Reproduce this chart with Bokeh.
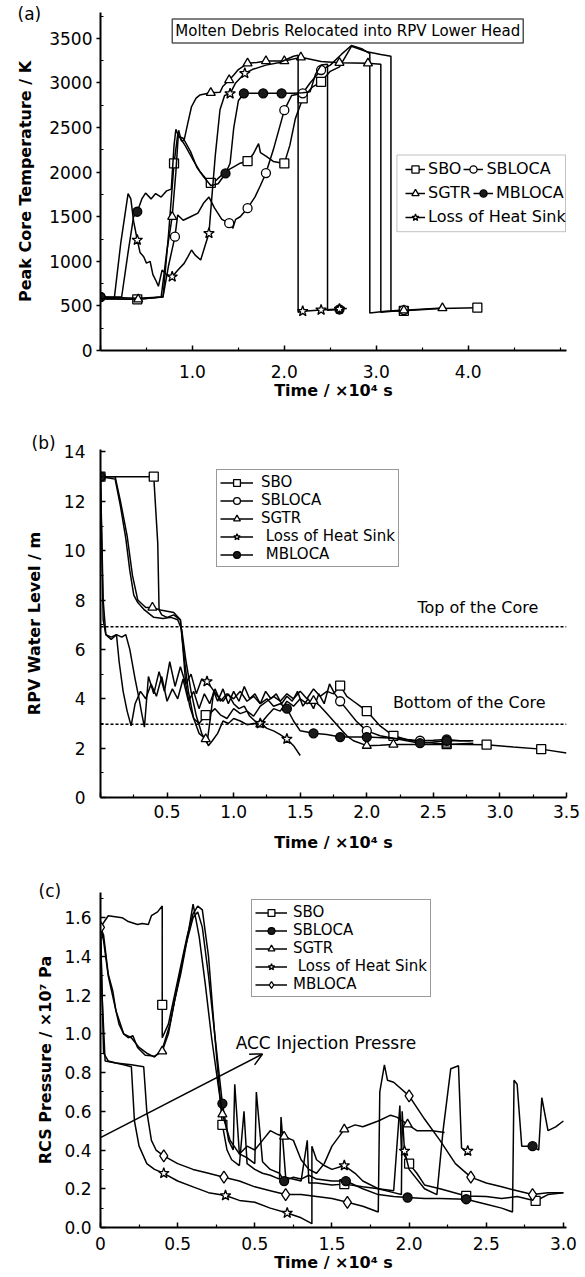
from bokeh.plotting import figure
from bokeh.models import (Range1d, FixedTicker, CustomJSTickFormatter, Legend, LegendItem,
                          Label, Span, Arrow, OpenHead, BoxAnnotation, Title)
from bokeh.layouts import column
from bokeh.embed import file_html
from bokeh.resources import INLINE

FONT = "DejaVu Sans"
INK = "black"

# ---------------- (a) Peak core temperature ----------------
A_SBO_X = [0, 0.4, 0.68, 0.74, 0.8, 0.84, 0.87, 0.92, 1.0, 1.08, 1.16, 1.2, 1.25, 1.3, 1.38, 1.45, 1.52, 1.6, 1.66, 1.72,
           1.74, 1.8, 1.88, 2.0, 2.06, 2.12, 2.2, 2.3, 2.4, 2.5, 2.6, 2.73, 2.9, 3.05, 3.16, 3.16, 3.3, 3.7, 4.1]
A_SBO_Y = [580, 574, 600, 1300, 2098, 2420, 2380, 2300, 2150, 2010, 1910, 1880, 1900, 1950, 2020, 2060, 2100, 2124, 2200, 2320,
           2220, 2180, 2120, 2098, 2300, 2600, 2827, 2950, 3013, 3130, 3180, 3410, 3350, 3320, 3300, 440, 445, 470, 480]
A_SBO_MX = [0.4, 0.8, 1.2, 1.6, 2.0, 2.2, 2.4, 3.3, 4.1]
A_SBO_MY = [574, 2098, 1880, 2124, 2098, 2827, 3013, 445, 480]

A_SBLOCA_X = [0, 0.4, 0.68, 0.74, 0.81, 0.84, 0.9, 0.98, 1.06, 1.12, 1.18, 1.24, 1.32, 1.4, 1.44, 1.47, 1.52, 1.6, 1.68, 1.74,
              1.8, 1.88, 2.0, 2.08, 2.2, 2.28, 2.4, 2.5, 2.62, 2.73, 2.85, 2.93, 2.93, 3.1, 3.3]
A_SBLOCA_Y = [600, 585, 600, 950, 1276, 1520, 1460, 1500, 1540, 1650, 1720, 1600, 1470, 1428, 1370, 1470, 1500, 1596, 1720, 1850,
              1990, 2250, 2695, 2860, 2884, 3000, 3145, 3200, 3320, 3420, 3380, 3330, 420, 440, 453]
A_SBLOCA_MX = [0, 0.81, 1.4, 1.6, 1.8, 2.0, 2.2, 2.4, 3.3]
A_SBLOCA_MY = [600, 1276, 1428, 1596, 1990, 2695, 2884, 3145, 453]

A_SGTR_X = [0, 0.41, 0.66, 0.72, 0.78, 0.82, 0.85, 0.88, 0.91, 0.95, 0.99, 1.04, 1.08, 1.2, 1.3, 1.33, 1.4, 1.45, 1.5, 1.6,
            1.7, 1.8, 2.0, 2.18, 2.4, 2.6, 2.91, 3.05, 3.05, 3.3, 3.72]
A_SGTR_Y = [580, 574, 600, 1100, 1500, 2000, 2470, 2350, 2359, 2550, 2733, 2830, 2864, 2890, 2895, 2960, 3033, 3090, 3150, 3220,
            3230, 3245, 3245, 3287, 3240, 3226, 3220, 3210, 430, 450, 476]
A_SGTR_MX = [0.41, 0.78, 1.2, 1.4, 1.6, 1.8, 2.0, 2.18, 2.6, 2.91, 3.3, 3.72]
A_SGTR_MY = [574, 1500, 2890, 3033, 3220, 3245, 3245, 3287, 3226, 3220, 450, 476]

A_MB_X = [0, 0.23, 0.3, 0.36, 0.4, 0.45, 0.49, 0.55, 0.6, 0.66, 0.72, 0.77, 0.8, 0.82, 0.85, 0.9, 0.98, 1.05, 1.12, 1.2,
          1.28, 1.36, 1.41, 1.45, 1.5, 1.56, 1.77, 1.97, 2.1, 2.2, 2.28, 2.34, 2.4, 2.47, 2.47, 2.6, 2.63]
A_MB_Y = [600, 600, 1100, 1500, 1556, 1700, 1765, 1700, 1760, 1720, 1790, 1810, 2300, 2480, 2400, 2380, 2230, 2050, 1950, 1850,
          1870, 1985, 2100, 2500, 2800, 2884, 2884, 2884, 2884, 2890, 2900, 3100, 3200, 3210, 450, 460, 465]
A_MB_MX = [0, 0.4, 1.36, 1.56, 1.77, 1.97, 2.6]
A_MB_MY = [600, 1556, 1985, 2884, 2884, 2884, 460]

A_LHS_X = [0, 0.15, 0.22, 0.3, 0.33, 0.36, 0.4, 0.43, 0.47, 0.5, 0.54, 0.57, 0.6, 0.63, 0.67, 0.72, 0.78, 0.84, 0.91, 0.95,
           0.99, 1.03, 1.09, 1.13, 1.18, 1.21, 1.25, 1.3, 1.35, 1.41, 1.47, 1.57, 1.65, 1.8, 1.95, 2.1, 2.15, 2.15, 2.2, 2.4,
           2.6, 2.68]
A_LHS_Y = [580, 585, 1200, 1760, 1700, 1450, 1239, 1100, 1051, 980, 1000, 850, 790, 720, 902, 850, 827, 900, 977, 1050,
           1127, 1070, 1015, 1150, 1314, 1700, 2200, 2700, 2860, 2880, 3000, 3108, 3150, 3200, 3230, 3300, 3310, 430, 440, 455,
           465, 470]
A_LHS_MX = [0.4, 0.78, 1.18, 1.41, 1.57, 2.2, 2.4, 2.6]
A_LHS_MY = [1239, 827, 1314, 2880, 3108, 440, 455, 465]

# ---------------- (b) RPV water level ----------------
B_SBO_X = [0, 0.4, 0.43, 0.44, 0.46, 0.5, 0.55, 0.6, 0.62, 0.64, 0.67, 0.7, 0.74, 0.77, 0.79, 0.82, 0.86, 0.9, 0.95, 1.0,
           1.05, 1.1, 1.15, 1.2, 1.25, 1.3, 1.35, 1.4, 1.45, 1.5, 1.55, 1.6, 1.65, 1.7, 1.75, 1.8, 1.85, 1.9, 1.95, 2.0,
           2.05, 2.1, 2.2, 2.3, 2.4, 2.6, 2.9, 3.1, 3.31, 3.5]
B_SBO_Y = [13, 13, 10.3, 7.6, 7.4, 7.3, 7.4, 7.2, 6.0, 4.6, 3.7, 3.2, 3.0, 3.2, 3.34, 3.4, 3.6, 3.35, 3.2, 3.6,
           3.4, 3.5, 3.3, 3.7, 3.9, 4.1, 3.9, 4.2, 4.0, 4.3, 4.0, 4.4, 4.1, 4.3, 4.2, 4.53, 4.1, 3.9, 3.7, 3.5,
           3.2, 2.9, 2.5, 2.35, 2.25, 2.16, 2.14, 2.05, 1.96, 1.8]
B_SBO_MX = [0, 0.4, 0.79, 1.8, 2.0, 2.2, 2.6, 2.9, 3.31]
B_SBO_MY = [13, 13, 3.34, 4.53, 3.5, 2.5, 2.16, 2.14, 1.96]

B_SBLOCA_X = [0, 0.11, 0.15, 0.19, 0.22, 0.25, 0.28, 0.33, 0.4, 0.47, 0.53, 0.58, 0.61, 0.64, 0.68, 0.72, 0.76, 0.8, 0.82, 0.85,
              0.88, 0.92, 0.96, 1.0, 1.04, 1.08, 1.12, 1.16, 1.2, 1.24, 1.28, 1.32, 1.36, 1.4, 1.44, 1.48, 1.52, 1.56, 1.6, 1.64,
              1.68, 1.72, 1.76, 1.8, 1.86, 1.92, 2.0, 2.1, 2.2, 2.3, 2.4, 2.5, 2.6, 2.7, 2.8]
B_SBLOCA_Y = [13, 12.9, 11.8, 10.5, 9.2, 8.2, 7.9, 7.6, 7.3, 7.25, 7.3, 7.2, 6.8, 5.6, 4.3, 3.3, 2.6, 2.2, 3.0, 4.3,
              3.9, 4.4, 3.8, 4.3, 3.9, 4.5, 4.0, 4.2, 3.8, 4.3, 4.0, 4.2, 3.8, 4.1, 3.9, 4.3, 3.7, 4.0, 3.6, 4.2,
              3.8, 4.6, 4.2, 3.9, 3.5, 3.1, 2.7, 2.5, 2.4, 2.35, 2.3, 2.32, 2.35, 2.3, 2.3]
B_SBLOCA_MX = [0, 1.8, 2.0, 2.4, 2.6]
B_SBLOCA_MY = [13, 3.9, 2.7, 2.3, 2.35]

B_SGTR_X = [0, 0.11, 0.15, 0.2, 0.24, 0.28, 0.34, 0.39, 0.45, 0.5, 0.55, 0.6, 0.63, 0.66, 0.7, 0.74, 0.79, 0.81, 0.84, 0.88,
            0.92, 0.96, 1.0, 1.05, 1.1, 1.15, 1.2, 1.25, 1.3, 1.35, 1.4, 1.45, 1.5, 1.55, 1.6, 1.65, 1.7, 1.75, 1.8, 1.85,
            1.9, 2.0, 2.1, 2.2, 2.4, 2.6, 2.8]
B_SGTR_Y = [13, 13, 12.0, 10.6, 9.0, 8.0, 7.7, 7.7, 7.6, 7.55, 7.5, 7.2, 5.6, 4.3, 3.2, 2.6, 2.37, 2.1, 2.3, 2.6,
            3.1, 3.0, 3.2, 3.1, 2.95, 3.0, 2.97, 3.3, 3.6, 3.5, 3.9, 3.7, 4.0, 3.8, 3.92, 3.7, 3.4, 3.1, 2.8, 2.5,
            2.3, 2.1, 2.12, 2.15, 2.15, 2.15, 2.2]
B_SGTR_MX = [0, 0.39, 0.79, 1.2, 1.6, 2.0, 2.2, 2.6]
B_SGTR_MY = [13, 7.7, 2.37, 2.97, 3.92, 2.1, 2.15, 2.15]

B_LHS_X = [0, 0.02, 0.04, 0.08, 0.12, 0.16, 0.19, 0.22, 0.26, 0.29, 0.31, 0.33, 0.36, 0.4, 0.44, 0.48, 0.52, 0.56, 0.6, 0.64,
           0.68, 0.72, 0.76, 0.8, 0.84, 0.88, 0.92, 0.96, 1.0, 1.04, 1.08, 1.12, 1.16, 1.2, 1.25, 1.3, 1.35, 1.4, 1.45, 1.5]
B_LHS_Y = [13, 8.0, 6.6, 6.5, 6.6, 6.5, 6.6, 6.0, 4.8, 4.0, 3.4, 2.85, 4.9, 4.2, 5.1, 4.3, 5.5, 4.5, 5.3, 4.6,
           5.0, 4.2, 4.8, 4.7, 4.4, 4.1, 3.9, 4.2, 3.8, 3.6, 3.7, 3.3, 3.1, 3.0, 2.8, 2.7, 2.55, 2.37, 2.1, 1.7]
B_LHS_MX = [0.8, 1.2, 1.4]
B_LHS_MY = [4.7, 3.0, 2.37]

B_MB_X = [0, 0.02, 0.04, 0.08, 0.12, 0.14, 0.17, 0.2, 0.23, 0.26, 0.3, 0.34, 0.38, 0.42, 0.46, 0.5, 0.54, 0.58, 0.62, 0.66,
          0.7, 0.74, 0.78, 0.82, 0.86, 0.9, 0.95, 1.0, 1.05, 1.1, 1.15, 1.2, 1.25, 1.3, 1.35, 1.4, 1.45, 1.5, 1.6, 1.7,
          1.8, 1.9, 2.0, 2.2, 2.4, 2.6, 2.78]
B_MB_Y = [13, 7.2, 6.6, 6.4, 6.6, 5.5, 4.3, 3.5, 2.9, 3.8, 4.3, 4.0, 4.6, 4.1, 4.9, 3.9, 4.4, 4.0, 4.8, 3.9,
          4.3, 3.6, 4.2, 3.8, 4.4, 3.9, 4.2, 4.0, 4.3, 3.9, 4.1, 3.8, 4.0, 3.7, 3.8, 3.6, 3.1, 2.7, 2.6, 2.55,
          2.45, 2.45, 2.45, 2.4, 2.2, 2.3, 2.3]
B_MB_MX = [0, 1.4, 1.6, 1.8, 2.0, 2.4, 2.6]
B_MB_MY = [13, 3.6, 2.6, 2.45, 2.45, 2.2, 2.3]

B_TOP_CORE = 6.92
B_BOTTOM_CORE = 2.97

# ---------------- (c) RCS pressure ----------------
C_SBO_X = [0, 0.05, 0.14, 0.18, 0.24, 0.27, 0.31, 0.33, 0.37, 0.4, 0.4, 0.44, 0.48, 0.52, 0.56, 0.6, 0.63, 0.66, 0.7, 0.74,
           0.79, 0.82, 0.85, 0.9, 0.93, 0.95, 1.0, 1.05, 1.1, 1.16, 1.17, 1.2, 1.3, 1.34, 1.35, 1.4, 1.5, 1.58, 1.7, 1.8,
           1.9, 1.94, 1.95, 2.0, 2.05, 2.1, 2.2, 2.37, 2.5, 2.6, 2.7, 2.82, 2.9, 3.0]
C_SBO_Y = [1.55, 1.61, 1.60, 1.58, 1.565, 1.57, 1.565, 1.61, 1.63, 1.66, 0.98, 1.05, 1.2, 1.35, 1.5, 1.62, 1.66, 1.64, 1.4, 1.0,
           0.53, 0.4, 0.35, 0.32, 0.6, 0.33, 0.3, 0.28, 0.27, 0.25, 0.57, 0.26, 0.24, 0.45, 0.23, 0.23, 0.22, 0.224, 0.21, 0.2,
           0.19, 0.63, 0.4, 0.33, 0.28, 0.22, 0.2, 0.163, 0.16, 0.15, 0.16, 0.137, 0.17, 0.18]
C_SBO_MX = [0.4, 0.79, 1.58, 2.0, 2.37, 2.82]
C_SBO_MY = [1.15, 0.53, 0.224, 0.33, 0.163, 0.137]

C_SBLOCA_X = [0, 0.02, 0.05, 0.1, 0.15, 0.2, 0.25, 0.3, 0.35, 0.4, 0.45, 0.5, 0.55, 0.6, 0.63, 0.66, 0.7, 0.74, 0.79, 0.83,
              0.86, 0.87, 0.9, 0.95, 1.0, 1.01, 1.05, 1.1, 1.16, 1.19, 1.25, 1.3, 1.35, 1.4, 1.5, 1.59, 1.7, 1.8, 1.9, 1.99,
              2.1, 2.2, 2.37, 2.5, 2.6, 2.67, 2.68, 2.7, 2.73, 2.8, 2.84, 2.86, 2.9, 2.95, 3.0]
C_SBLOCA_Y = [1.55, 1.48, 1.3, 1.12, 1.0, 0.98, 0.93, 0.9, 0.88, 0.92, 1.05, 1.25, 1.45, 1.6, 1.63, 1.55, 1.3, 1.0, 0.64, 0.45,
              0.4, 0.74, 0.38, 0.36, 0.33, 0.7, 0.34, 0.3, 0.28, 0.24, 0.26, 0.25, 0.27, 0.25, 0.24, 0.24, 0.2, 0.17, 0.16, 0.155,
              0.15, 0.15, 0.146, 0.12, 0.1, 0.08, 0.76, 0.74, 0.42, 0.42, 0.4, 0.67, 0.5, 0.52, 0.55]
C_SBLOCA_MX = [0.79, 1.19, 1.59, 1.99, 2.37, 2.8]
C_SBLOCA_MY = [0.64, 0.24, 0.24, 0.155, 0.146, 0.42]

C_SGTR_X = [0, 0.02, 0.05, 0.08, 0.1, 0.12, 0.15, 0.18, 0.21, 0.24, 0.29, 0.35, 0.4, 0.44, 0.48, 0.52, 0.56, 0.6, 0.64, 0.68,
            0.72, 0.76, 0.79, 0.84, 0.9, 0.95, 1.0, 1.05, 1.1, 1.15, 1.19, 1.25, 1.3, 1.35, 1.4, 1.45, 1.5, 1.58, 1.65, 1.7,
            1.8, 1.88, 1.92, 1.99, 2.05, 2.15, 2.23]
C_SGTR_Y = [1.55, 1.51, 1.31, 1.22, 1.12, 1.05, 1.0, 0.98, 0.99, 0.93, 0.89, 0.885, 0.91, 1.0, 1.17, 1.31, 1.48, 1.67, 1.5, 1.25,
            0.98, 0.75, 0.585, 0.45, 0.38, 0.42, 0.4, 0.45, 0.5, 0.48, 0.47, 0.45, 0.35, 0.3, 0.28, 0.33, 0.42, 0.507, 0.53, 0.52,
            0.55, 0.58, 0.57, 0.533, 0.5, 0.5, 0.49]
C_SGTR_MX = [0.4, 0.79, 1.19, 1.58, 1.99]
C_SGTR_MY = [0.91, 0.585, 0.47, 0.507, 0.533]

C_LHS_X = [0, 0.02, 0.05, 0.1, 0.15, 0.2, 0.22, 0.25, 0.3, 0.35, 0.41, 0.5, 0.6, 0.7, 0.81, 0.9, 1.0, 1.1, 1.21, 1.3,
           1.37, 1.37, 1.4, 1.45, 1.5, 1.58, 1.65, 1.7, 1.8, 1.9, 1.95, 1.955, 1.97, 2.0, 2.1, 2.18, 2.22, 2.27, 2.32, 2.34,
           2.38]
C_LHS_Y = [1.55, 0.9, 0.86, 0.85, 0.84, 0.83, 0.55, 0.42, 0.33, 0.3, 0.28, 0.24, 0.21, 0.18, 0.165, 0.14, 0.13, 0.1, 0.075, 0.05,
           0.02, 0.42, 0.35, 0.32, 0.3, 0.32, 0.28, 0.24, 0.2, 0.18, 0.17, 0.6, 0.395, 0.3, 0.2, 0.17, 0.5, 0.82, 0.835, 0.41,
           0.395]
C_LHS_MX = [0.41, 0.81, 1.21, 1.58, 1.97, 2.38]
C_LHS_MY = [0.28, 0.165, 0.075, 0.32, 0.395, 0.395]

C_MB_X = [0, 0.01, 0.03, 0.1, 0.2, 0.28, 0.3, 0.33, 0.36, 0.41, 0.5, 0.6, 0.7, 0.8, 0.9, 1.0, 1.1, 1.2, 1.3, 1.4,
          1.5, 1.6, 1.7, 1.8, 1.81, 1.84, 1.86, 1.9, 2.0, 2.1, 2.2, 2.3, 2.4, 2.5, 2.6, 2.7, 2.8, 2.9, 3.0]
C_MB_Y = [1.55, 1.2, 0.86, 0.85, 0.84, 0.83, 0.6, 0.45, 0.4, 0.37, 0.33, 0.3, 0.28, 0.26, 0.24, 0.21, 0.19, 0.17, 0.17, 0.16,
          0.15, 0.13, 0.11, 0.08, 0.7, 0.84, 0.76, 0.75, 0.68, 0.56, 0.45, 0.33, 0.26, 0.23, 0.21, 0.19, 0.17, 0.18, 0.18]
C_MB_MX = [0, 0.41, 0.8, 1.2, 1.6, 2.0, 2.4, 2.8]
C_MB_MY = [1.55, 0.37, 0.26, 0.17, 0.13, 0.68, 0.26, 0.17]

C_ACC_START = (0.0, 0.464)
C_ACC_END = (1.05, 0.896)

# ---------------- ticks ----------------
A_XTICKS = [0, 1, 2, 3, 4]
A_XLABELS = ["", "1.0", "2.0", "3.0", "4.0"]
A_XMINOR = [0.5, 1.5, 2.5, 3.5, 4.5, 5.0]
A_YTICKS = [0, 500, 1000, 1500, 2000, 2500, 3000, 3500]
A_YLABELS = ["0", "500", "1000", "1500", "2000", "2500", "3000", "3500"]
A_YMINOR = [250, 750, 1250, 1750, 2250, 2750, 3250, 3750]

B_XTICKS = [0, 0.5, 1.0, 1.5, 2.0, 2.5, 3.0, 3.5]
B_XLABELS = ["", "0.5", "1.0", "1.5", "2.0", "2.5", "3.0", "3.5"]
B_XMINOR = [0.25, 0.75, 1.25, 1.75, 2.25, 2.75, 3.25]
B_YTICKS = [0, 2, 4, 6, 8, 10, 12, 14]
B_YLABELS = ["0", "2", "4", "6", "8", "10", "12", "14"]
B_YMINOR = [1, 3, 5, 7, 9, 11, 13]

C_XTICKS = [0, 0.5, 1.0, 1.5, 2.0, 2.5, 3.0]
C_XLABELS = ["0", "0.5", "0.5", "1.5", "2.0", "2.5", "3.0"]
C_XMINOR = [0.25, 0.75, 1.25, 1.75, 2.25, 2.75]
C_YTICKS = [0, 0.2, 0.4, 0.6, 0.8, 1.0, 1.2, 1.4, 1.6]
C_YLABELS = ["0.0", "0.2", "0.4", "0.6", "0.8", "1.0", "1.2", "1.4", "1.6"]
C_YMINOR = [0.1, 0.3, 0.5, 0.7, 0.9, 1.1, 1.3, 1.5, 1.7]

JS = "const i = vals.findIndex(v => Math.abs(v - tick) < 1e-6); return i >= 0 ? labs[i] : '';"


def style_axis(ax, ticks, labels, minor, tick_in, tick_out, std, title_std):
    ax.ticker = FixedTicker(ticks=ticks, minor_ticks=minor)
    ax.formatter = CustomJSTickFormatter(args=dict(vals=ticks, labs=labels), code=JS)
    ax.axis_line_width = 2
    ax.axis_line_color = INK
    ax.major_tick_line_width = 1.5
    ax.major_tick_line_color = INK
    ax.major_tick_in = tick_in
    ax.major_tick_out = tick_out
    ax.minor_tick_line_width = 1.2
    ax.minor_tick_line_color = INK
    ax.minor_tick_in = 3
    ax.minor_tick_out = 0
    ax.major_label_text_font = FONT
    ax.major_label_text_font_size = "17px"
    ax.major_label_text_color = INK
    ax.major_label_standoff = std
    ax.axis_label_text_font = FONT
    ax.axis_label_text_font_size = "16px"
    ax.axis_label_text_font_style = "bold"
    ax.axis_label_text_color = INK
    ax.axis_label_standoff = title_std


def make_fig(height, xr, yr, borders, xlabel, ylabel):
    l, r, t, b = borders
    p = figure(width=585, height=height, x_range=Range1d(*xr), y_range=Range1d(*yr),
               output_backend="svg", toolbar_location=None,
               min_border_left=l, min_border_right=r, min_border_top=t, min_border_bottom=b,
               x_axis_label=xlabel, y_axis_label=ylabel)
    p.xgrid.visible = False
    p.ygrid.visible = False
    p.outline_line_color = None
    p.background_fill_color = "white"
    p.border_fill_color = "white"
    return p


def series(p, x, y, mx, my, marker, fill, size=9):
    ln = p.line(x, y, line_color=INK, line_width=1.5)
    sc = p.scatter(mx, my, marker=marker, size=size, line_color=INK, line_width=1.3, fill_color=fill)
    return [ln, sc]


def panel_label(p, text, offset, standoff):
    p.add_layout(Title(text=text, align="left", offset=offset, standoff=standoff, vertical_align="bottom",
                       text_font=FONT, text_font_size="17px", text_font_style="normal", text_color=INK), "above")


def box_legend(p, items, loc, glyph_w, standoff):
    p.add_layout(Legend(items=items, location=loc, padding=3, spacing=0, margin=0,
                        glyph_width=glyph_w, glyph_height=17, label_height=17, label_standoff=standoff,
                        label_text_font=FONT, label_text_font_size="15px", label_text_color=INK,
                        border_line_color="#333333", border_line_width=1, background_fill_color="white"))


XTITLE = "Time / \u00d710\u2074 s"

# ================= panel (a) =================
pa = make_fig(412, (0, 5.07), (0, 3790), (100, 11, 12, 62), XTITLE, "Peak Core Temperature / K")
style_axis(pa.xaxis[0], A_XTICKS, A_XLABELS, A_XMINOR, 5, 0, 14, 0)
style_axis(pa.yaxis[0], A_YTICKS, A_YLABELS, A_YMINOR, 0, 4, 4, 11)

ra = {}
ra["SBO"] = series(pa, A_SBO_X, A_SBO_Y, A_SBO_MX, A_SBO_MY, "square", "white")
ra["SBLOCA"] = series(pa, A_SBLOCA_X, A_SBLOCA_Y, A_SBLOCA_MX, A_SBLOCA_MY, "circle", "white")
ra["SGTR"] = series(pa, A_SGTR_X, A_SGTR_Y, A_SGTR_MX, A_SGTR_MY, "triangle", "white")
ra["MBLOCA"] = series(pa, A_MB_X, A_MB_Y, A_MB_MX, A_MB_MY, "circle", "#1a1a1a")
ra["Loss of Heat Sink"] = series(pa, A_LHS_X, A_LHS_Y, A_LHS_MX, A_LHS_MY, "star", "white", 11)

rows = [["SBO", "SBLOCA"], ["SGTR", "MBLOCA"], ["Loss of Heat Sink"]]
for row, ybot in zip(rows, [172, 148, 124]):
    lg = Legend(items=[LegendItem(label=n, renderers=ra[n]) for n in row],
                orientation="horizontal", location=(305, ybot), padding=0, spacing=2, margin=0,
                glyph_width=20, glyph_height=18, label_height=18, label_standoff=3,
                label_text_font=FONT, label_text_font_size="16px", label_text_color=INK,
                border_line_color=None, background_fill_alpha=0)
    pa.add_layout(lg)
pa.add_layout(BoxAnnotation(left=3.225, right=5.059, top=2192, bottom=1332,
                            fill_color=None, line_color="#333333", line_width=1))

pa.add_layout(Label(x=2.69, y=3582, text="Molten Debris Relocated into RPV Lower Head",
                    text_font=FONT, text_font_size="15px", text_align="center", text_baseline="middle",
                    text_color=INK, border_line_color="#555555", border_line_width=1.5,
                    background_fill_color="white", padding=3))
panel_label(pa, "(a)", -83, -22)

# ================= panel (b) =================
pb = make_fig(450, (0, 3.5), (0, 14.1), (95, 19, 37, 65), XTITLE, "RPV Water Level / m")
style_axis(pb.xaxis[0], B_XTICKS, B_XLABELS, B_XMINOR, 5, 0, 7, 12)
style_axis(pb.yaxis[0], B_YTICKS, B_YLABELS, B_YMINOR, 5, 0, 15, 17)

for loc in (B_TOP_CORE, B_BOTTOM_CORE):
    pb.add_layout(Span(location=loc, dimension="width", line_color=INK, line_width=1.5, line_dash="3 2"))

rb = {}
rb["SBO"] = series(pb, B_SBO_X, B_SBO_Y, B_SBO_MX, B_SBO_MY, "square", "white")
rb["SBLOCA"] = series(pb, B_SBLOCA_X, B_SBLOCA_Y, B_SBLOCA_MX, B_SBLOCA_MY, "circle", "white")
rb["SGTR"] = series(pb, B_SGTR_X, B_SGTR_Y, B_SGTR_MX, B_SGTR_MY, "triangle", "white")
rb["Loss of Heat Sink"] = series(pb, B_LHS_X, B_LHS_Y, B_LHS_MX, B_LHS_MY, "star", "white", 11)
rb["MBLOCA"] = series(pb, B_MB_X, B_MB_Y, B_MB_MX, B_MB_MY, "circle", "#1a1a1a")

B_ORDER = ["SBO", "SBLOCA", "SGTR", "Loss of Heat Sink", "MBLOCA"]
B_LABELS = ["SBO", "SBLOCA", "SGTR", " Loss of Heat Sink", " MBLOCA"]
box_legend(pb, [LegendItem(label=t, renderers=rb[n]) for n, t in zip(B_ORDER, B_LABELS)], (116, 230), 33, 8)
pb.add_layout(Label(x=2.38, y=7.7, text="Top of the Core", text_font=FONT, text_font_size="16px",
                    text_baseline="middle", text_color=INK))
pb.add_layout(Label(x=2.196, y=3.85, text="Bottom of the Core", text_font=FONT, text_font_size="16px",
                    text_baseline="middle", text_color=INK))
panel_label(pb, "(b)", -69, -6)

# ================= panel (c) =================
pc = make_fig(414, (0, 3.02), (0, 1.73), (87, 19, 30, 49), XTITLE, "RCS Pressure / \u00d710\u2077 Pa")
style_axis(pc.xaxis[0], C_XTICKS, C_XLABELS, C_XMINOR, 5, 0, 9, 0)
style_axis(pc.yaxis[0], C_YTICKS, C_YLABELS, C_YMINOR, 5, 0, 9, 6)

rc = {}
rc["SBO"] = series(pc, C_SBO_X, C_SBO_Y, C_SBO_MX, C_SBO_MY, "square", "white")
rc["SBLOCA"] = series(pc, C_SBLOCA_X, C_SBLOCA_Y, C_SBLOCA_MX, C_SBLOCA_MY, "circle", "#1a1a1a")
rc["SGTR"] = series(pc, C_SGTR_X, C_SGTR_Y, C_SGTR_MX, C_SGTR_MY, "triangle", "white")
rc["Loss of Heat Sink"] = series(pc, C_LHS_X, C_LHS_Y, C_LHS_MX, C_LHS_MY, "star", "white", 11)
rc["MBLOCA"] = series(pc, C_MB_X, C_MB_Y, C_MB_MX, C_MB_MY, "diamond", "white", 12)

C_ORDER = ["SBO", "SBLOCA", "SGTR", "Loss of Heat Sink", "MBLOCA"]
C_LABELS = ["SBO", "SBLOCA", "SGTR", " Loss of Heat Sink", "MBLOCA"]
box_legend(pc, [LegendItem(label=t, renderers=rc[n]) for n, t in zip(C_ORDER, C_LABELS)], (151, 230), 32, 6)
pc.add_layout(Arrow(end=OpenHead(size=12, line_width=1.5, line_color=INK),
                    x_start=C_ACC_START[0], y_start=C_ACC_START[1], x_end=C_ACC_END[0], y_end=C_ACC_END[1],
                    line_width=1.5, line_color=INK))
pc.add_layout(Label(x=0.876, y=0.953, text="ACC Injection Pressre", text_font=FONT, text_font_size="17px",
                    text_baseline="middle", text_color=INK))
panel_label(pc, "(c)", -62, -16)

layout = column(pa, pb, pc, spacing=0)
open("out.html", "w").write(file_html(layout, INLINE))
